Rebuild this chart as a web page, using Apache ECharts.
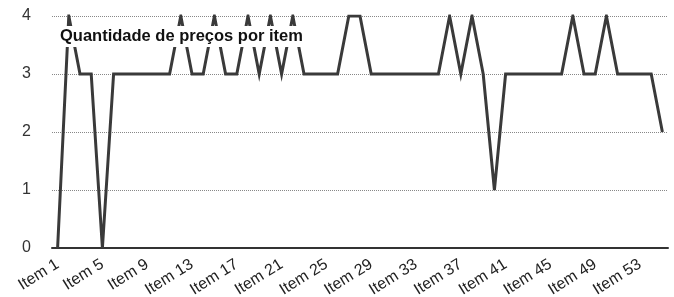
<!DOCTYPE html>
<html><head><meta charset="utf-8">
<script src="https://cdn.jsdelivr.net/npm/echarts@6/dist/echarts.min.js"></script>
<style>html,body{margin:0;padding:0;background:#fff}#c{width:674px;height:297px}</style>
</head><body><div id="c"></div>
<script>
const categories = [];
for (let i = 1; i <= 55; i++) categories.push('Item ' + i);
const values = [0,4,3,3,0,3,3,3,3,3,3,4,3,3,4,3,3,4,3,4,3,4,3,3,3,3,4,4,3,3,3,3,3,3,3,4,3,4,3,1,3,3,3,3,3,3,4,3,3,4,3,3,3,3,2];
const titleText = 'Quantidade de preços por item';
const chart = echarts.init(document.getElementById('c'), null, {renderer:'canvas'});
chart.setOption({
  animation: false,
  backgroundColor: '#fff',
  title: {
    text: titleText, left: 58, top: 26, padding: [2, 2],
    backgroundColor: '#fff',
    textStyle: {fontFamily: 'Liberation Sans, Arial, sans-serif', fontSize: 16.5, fontWeight: 'bold', color: '#111'}
  },
  grid: {left: 52, right: 6, top: 16, bottom: 49, containLabel: false, outerBoundsMode: 'none'},
  xAxis: {
    type: 'category', data: categories, boundaryGap: true,
    axisLine: {lineStyle: {color: '#333', width: 2}},
    axisTick: {show: false},
    axisLabel: {interval: 3, rotate: 32, margin: 15, fontSize: 16, color: '#222', fontFamily: 'Liberation Sans, Arial, sans-serif'}
  },
  yAxis: {
    type: 'value', min: 0, max: 4, interval: 1,
    axisLine: {show: false}, axisTick: {show: false},
    splitLine: {lineStyle: {type: 'dotted', color: '#888', width: 1}},
    axisLabel: {fontSize: 16, color: '#333', margin: 21, fontFamily: 'Liberation Sans, Arial, sans-serif'}
  },
  series: [{
    type: 'line', data: values, symbol: 'none',
    lineStyle: {color: '#3a3a3a', width: 3, join: 'miter'}
  }]
});
</script></body></html>
